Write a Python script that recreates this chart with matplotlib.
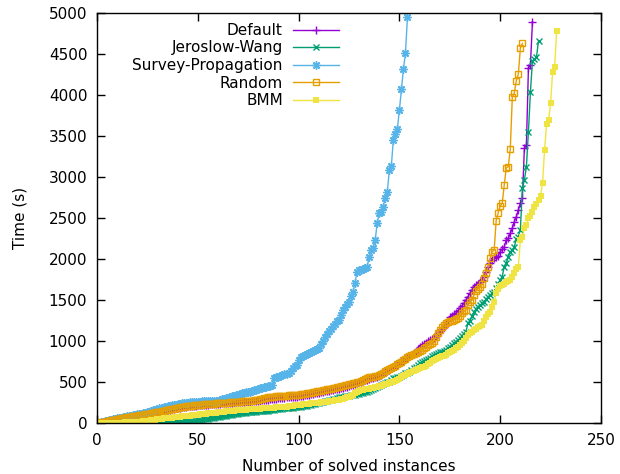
import numpy as np
import matplotlib.pyplot as plt

plt.rc('font', family='DejaVu Sans', size=11)

# solving times (s), sorted -> cactus plot, x = number of solved instances
default_t = [
    2, 6, 10, 15, 20, 25, 30, 35, 40, 45,
    50, 55, 60, 64, 68, 72, 76, 80, 84, 88,
    92, 96, 100, 104, 108, 113, 118, 123, 128, 133,
    138, 143, 148, 153, 158, 163, 168, 173, 178, 183,
    187, 191, 195, 199, 202, 205, 208, 210, 212, 214,
    216, 218, 220, 222, 224, 226, 228, 230, 232, 234,
    236, 238, 240, 242, 244, 246, 248, 250, 252, 254,
    256, 258, 259, 260, 261, 262, 264, 266, 268, 270,
    272, 275, 278, 281, 284, 287, 290, 293, 296, 299,
    302, 305, 308, 311, 314, 316, 318, 320, 322, 325,
    329, 333, 337, 341, 345, 350, 355, 360, 365, 370,
    375, 380, 385, 390, 395, 400, 405, 410, 415, 420,
    426, 432, 438, 444, 450, 458, 466, 474, 484, 494,
    505, 512, 520, 527, 535, 543, 551, 559, 567, 575,
    590, 605, 620, 635, 650, 665, 680, 696, 712, 728,
    744, 760, 777, 794, 811, 828, 845, 870, 900, 930,
    950, 965, 980, 995, 1010, 1025, 1040, 1060, 1094, 1120,
    1150, 1174, 1210, 1250, 1296, 1310, 1325, 1338, 1370, 1400,
    1430, 1460, 1500, 1540, 1580, 1620, 1662, 1680, 1700, 1723,
    1750, 1784, 1840, 1906, 1950, 1990, 2010, 2028, 2036, 2090,
    2120, 2150, 2232, 2252, 2313, 2374, 2455, 2516, 2597, 2679,
    2740, 3350, 3390, 4325, 4366, 4894,
]

jw_t = [
    0, 1, 1, 2, 2, 3, 3, 4, 4, 5,
    5, 6, 6, 7, 7, 8, 8, 9, 9, 10,
    10, 11, 11, 12, 12, 13, 13, 14, 14, 15,
    15, 16, 16, 17, 17, 18, 18, 19, 19, 20,
    20, 21, 22, 23, 24, 25, 26, 28, 30, 33,
    36, 40, 44, 48, 52, 56, 60, 64, 68, 72,
    76, 80, 84, 88, 92, 96, 100, 104, 108, 112,
    116, 120, 123, 126, 129, 132, 135, 138, 140, 142,
    144, 146, 148, 150, 152, 155, 158, 162, 166, 170,
    173, 176, 179, 182, 185, 187, 189, 191, 193, 195,
    198, 202, 206, 212, 218, 224, 230, 236, 242, 248,
    254, 260, 266, 272, 278, 284, 290, 298, 306, 314,
    318, 322, 326, 330, 334, 338, 342, 346, 350, 354,
    361, 368, 375, 382, 390, 398, 410, 422, 434, 446,
    458, 470, 482, 494, 506, 520, 545, 552, 558, 564,
    575, 590, 605, 615, 626, 645, 665, 685, 705, 728,
    740, 752, 768, 783, 798, 813, 829, 840, 850, 860,
    870, 880, 895, 911, 930, 950, 972, 990, 1012, 1033,
    1060, 1090, 1114, 1216, 1250, 1300, 1357, 1390, 1420, 1439,
    1460, 1480, 1510, 1540, 1560, 1580, 1601, 1650, 1700, 1744,
    1784, 1906, 1947, 2028, 2089, 2110, 2150, 2240, 2272, 2354,
    2862, 2963, 3126, 3553, 4040, 4418, 4435, 4460, 4662,
]

sp_t = [
    3, 8, 14, 20, 26, 32, 38, 44, 50, 55,
    60, 65, 70, 75, 80, 85, 90, 95, 100, 105,
    110, 115, 120, 126, 132, 138, 146, 154, 162, 170,
    178, 185, 192, 199, 204, 209, 214, 219, 224, 229,
    234, 238, 243, 248, 250, 252, 254, 256, 258, 260,
    262, 263, 264, 265, 266, 267, 268, 270, 272, 274,
    280, 287, 294, 301, 308, 315, 325, 332, 339, 346,
    353, 360, 366, 372, 378, 384, 392, 400, 407, 414,
    421, 428, 436, 443, 450, 456, 462, 545, 556, 566,
    575, 585, 592, 598, 605, 640, 670, 700, 707, 770,
    800, 820, 830, 840, 850, 860, 875, 888, 900, 920,
    960, 1000, 1050, 1090, 1120, 1150, 1180, 1210, 1240, 1260,
    1317, 1378, 1420, 1451, 1479, 1549, 1601, 1711, 1845, 1860,
    1870, 1880, 1890, 1906, 2028, 2110, 2130, 2232, 2443, 2557,
    2577, 2638, 2747, 2813, 3085, 3134, 3451, 3524, 3589, 3817,
    4073, 4317, 4508, 4955,
]

random_t = [
    3, 7, 12, 17, 22, 27, 32, 37, 42, 47,
    52, 57, 62, 66, 70, 74, 78, 82, 86, 90,
    94, 98, 102, 106, 110, 115, 120, 125, 130, 135,
    140, 145, 150, 155, 160, 165, 170, 175, 180, 185,
    190, 194, 198, 202, 206, 209, 212, 215, 218, 220,
    222, 224, 226, 228, 230, 232, 234, 236, 238, 240,
    242, 244, 246, 248, 250, 252, 254, 256, 258, 260,
    262, 264, 266, 268, 270, 272, 274, 276, 278, 282,
    290, 298, 305, 310, 314, 318, 320, 322, 324, 326,
    328, 330, 332, 334, 336, 338, 340, 342, 344, 346,
    350, 354, 358, 362, 366, 370, 375, 380, 385, 390,
    395, 400, 405, 410, 415, 420, 425, 430, 436, 442,
    448, 454, 460, 466, 472, 478, 484, 490, 497, 504,
    512, 520, 540, 550, 555, 560, 565, 570, 578, 585,
    600, 615, 630, 645, 660, 672, 687, 700, 715, 730,
    745, 768, 785, 800, 815, 830, 845, 855, 865, 878,
    890, 910, 930, 950, 965, 972, 1000, 1050, 1094, 1140,
    1170, 1195, 1215, 1235, 1242, 1248, 1256, 1265, 1277, 1300,
    1338, 1360, 1378, 1439, 1470, 1500, 1560, 1610, 1640, 1662,
    1700, 1764, 1825, 1900, 2008, 2089, 2110, 2467, 2565, 2646,
    2680, 2902, 3110, 3126, 3337, 3972, 4028, 4175, 4256, 4570,
    4630,
]

bmm_t = [
    0, 1, 1, 2, 2, 3, 3, 4, 4, 5,
    5, 6, 6, 7, 8, 9, 10, 11, 12, 14,
    16, 18, 20, 23, 26, 29, 32, 36, 40, 44,
    48, 52, 55, 58, 61, 64, 67, 70, 73, 76,
    79, 82, 85, 87, 89, 91, 93, 95, 98, 101,
    104, 107, 110, 113, 116, 119, 122, 125, 128, 131,
    134, 137, 140, 143, 146, 148, 150, 152, 154, 156,
    158, 160, 162, 164, 166, 168, 170, 172, 173, 174,
    175, 177, 179, 181, 183, 185, 187, 189, 191, 193,
    195, 197, 199, 201, 203, 206, 210, 214, 217, 220,
    223, 226, 229, 232, 235, 238, 241, 244, 247, 250,
    253, 256, 259, 262, 265, 268, 272, 276, 281, 286,
    292, 298, 305, 312, 320, 330, 345, 360, 378, 395,
    400, 405, 410, 415, 420, 425, 430, 436, 443, 450,
    457, 464, 471, 478, 485, 495, 504, 515, 527, 540,
    555, 570, 585, 600, 614, 625, 636, 647, 657, 667,
    677, 687, 700, 717, 734, 751, 768, 780, 792, 804,
    812, 820, 834, 848, 862, 876, 890, 910, 930, 950,
    972, 1006, 1040, 1073, 1093, 1113, 1134, 1150, 1165, 1180,
    1195, 1245, 1296, 1326, 1357, 1420, 1480, 1582, 1640, 1671,
    1685, 1695, 1723, 1735, 1744, 1784, 1833, 1874, 1906, 2232,
    2272, 2374, 2415, 2496, 2524, 2577, 2630, 2671, 2720, 2768,
    2923, 3329, 3642, 3695, 3899, 4284, 4337, 4784,
]

series = [
    ("Default", default_t, '#9400d3', dict(marker='+', ms=6, mew=1)),
    ("Jeroslow-Wang", jw_t, '#009e73', dict(marker='x', ms=5, mew=1)),
    ("Survey-Propagation", sp_t, '#56b4e9', dict(marker=(8, 2, 0), ms=6, mew=1)),
    ("Random", random_t, '#e69f00', dict(marker='s', ms=5, mew=1, mfc='none')),
    ("BMM", bmm_t, '#f0e442', dict(marker='s', ms=5, mew=0)),
]

fig = plt.figure(figsize=(6.2, 4.74), dpi=100)
ax = fig.add_axes([97 / 620, 51 / 474, 504 / 620, 410 / 474])

for name, t, col, mk in series:
    n = np.arange(1, len(t) + 1)
    ax.plot(n, t, color=col, lw=1, label=name, **mk)

ax.set_xlim(0, 250)
ax.set_ylim(0, 5000)
ax.set_xticks(range(0, 251, 50))
ax.set_yticks(range(0, 5001, 500))
ax.tick_params(direction='in', top=True, right=True, length=6, width=1, pad=7)
for s in ax.spines.values():
    s.set_linewidth(1)

ax.set_xlabel("Number of solved instances", labelpad=8)
ax.set_ylabel("Time (s)", labelpad=15)

ax.legend(loc='upper right', bbox_to_anchor=(0.502, 1.002), frameon=False,
          markerfirst=False, handlelength=3.0, handletextpad=0.7,
          labelspacing=0.17, borderpad=0.2, fontsize=11)

fig.savefig("out.png", dpi=100)
